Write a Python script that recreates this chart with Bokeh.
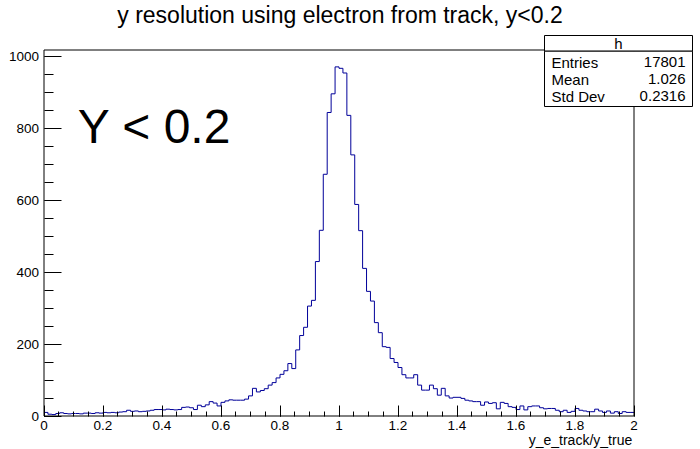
import numpy as np
from bokeh.plotting import figure
from bokeh.models import FixedTicker, Label, BoxAnnotation, Range1d
from bokeh.embed import file_html
from bokeh.resources import INLINE

# ---- data ----
counts = [
    10, 5, 4, 7, 9, 7, 6, 7, 7, 6, 8, 8, 7, 9, 8, 10, 9, 10, 9, 11,
    12, 16, 13, 14, 12, 13, 14, 16, 18, 18, 17, 19, 18,
    17, 18, 24, 25, 23, 18, 30, 26, 31, 40, 36, 28, 38, 42, 45, 44, 44, 44, 47, 56,
    77, 67, 71, 76, 86, 93, 106, 116, 126, 146, 132, 184, 224, 247, 306, 322, 430,
    517, 673, 845, 897, 972, 968, 955, 837, 727, 589, 516, 411, 347, 320, 260, 232,
    193, 191, 160, 149, 135,
    115, 106, 106, 115, 86, 72, 72, 86, 76, 58, 77, 56, 50, 52, 52, 49, 44, 42, 40,
    40, 30, 39, 35, 37, 20, 38, 35, 26, 24, 18, 28,
    17, 26, 28, 28, 23, 20, 21, 21, 16, 12, 16, 10, 13, 21, 16, 14, 12, 12, 19, 14,
    10, 14, 8, 12, 7, 12, 10, 10,
]
x_ticks = [0.0, 0.2, 0.4, 0.6, 0.8, 1.0, 1.2, 1.4, 1.6, 1.8, 2.0]
x_tick_labels = ["0", "0.2", "0.4", "0.6", "0.8", "1", "1.2", "1.4", "1.6", "1.8", "2"]
y_ticks = [0, 200, 400, 600, 800, 1000]
y_tick_labels = ["0", "200", "400", "600", "800", "1000"]
title_text = "y resolution using electron from track, y<0.2"
x_title = "y_e_track/y_true"
annot_text = "Y < 0.2"
stat_name = "h"
stat_labels = ["Entries", "Mean", "Std Dev"]
stat_values = ["17801", "1.026", "0.2316"]

# ---- geometry (canvas pixels) ----
W, H = 700, 449
XMIN, XMAX = 0.0, 2.0
YMIN, YMAX = 0.0, 1019.0
FL, FR, FT, FB = 43.5, 633.5, 49.5, 415.5   # plot box edges in canvas px
PXX = (FR - FL) / (XMAX - XMIN)
PYY = (FB - FT) / (YMAX - YMIN)
BASE_FIX = 0.355  # measured offset of the rendered baseline, in em


def dx(a):
    return XMIN + (a - FL) / PXX


def dy(a):
    return YMIN + (FB - a) / PYY


def by(baseline_px, size):
    return dy(baseline_px - BASE_FIX * size)


FONT = "Liberation Sans"

p = figure(width=W, height=H, title=None,
           x_range=Range1d(dx(0), dx(W)), y_range=Range1d(dy(H), dy(0)),
           output_backend="svg", toolbar_location=None,
           min_border_left=0, min_border_right=0, min_border_top=0, min_border_bottom=0)
p.grid.visible = False
p.background_fill_color = "white"
p.border_fill_color = "white"
p.outline_line_color = None

edges = np.linspace(XMIN, XMAX, len(counts) + 1)
xs = list(edges)
ys = list(counts) + [counts[-1]]
p.step(x=xs, y=ys, mode="after", line_color="#000099", line_width=1)

# plot box
p.quad(left=[XMIN], right=[XMAX], bottom=[YMIN], top=[YMAX],
       fill_color=None, line_color="black", line_width=1)

p.xaxis.ticker = FixedTicker(ticks=x_ticks, minor_ticks=list(np.arange(0, 2.0001, 0.05)))
p.xaxis.major_label_overrides = {t: l for t, l in zip(x_ticks, x_tick_labels)}
p.yaxis.ticker = FixedTicker(ticks=y_ticks, minor_ticks=list(np.arange(0, 1001, 50)))
p.yaxis.major_label_overrides = {t: l for t, l in zip(y_ticks, y_tick_labels)}

for ax, mj, mn in ((p.xaxis[0], 11, 5), (p.yaxis[0], 17, 9)):
    ax.fixed_location = 0
    ax.axis_line_color = None
    ax.major_tick_line_color = "black"
    ax.minor_tick_line_color = "black"
    ax.major_tick_in = mj
    ax.major_tick_out = 0
    ax.minor_tick_in = mn
    ax.minor_tick_out = 0
    ax.major_label_text_font = FONT
    ax.major_label_text_font_size = "13.5px"
    ax.major_label_text_color = "black"
    ax.major_label_standoff = 5


def add_text(x_px, base_px, text, size, align):
    p.add_layout(Label(x=dx(x_px), y=by(base_px, size), text=text, text_align=align,
                       text_baseline="alphabetic", text_font=FONT,
                       text_font_size=f"{size}px", text_color="black"))


# title
add_text(339.5, 23, title_text, 23, "center")
# x axis title
add_text(631.7, 444, x_title, 14, "right")
# big annotation
add_text(77.3, 143.3, annot_text, 48, "left")

# stats box
p.add_layout(BoxAnnotation(left=dx(544), right=dx(692), top=dy(35), bottom=dy(50.7),
                           fill_color="white", fill_alpha=1, line_color="black",
                           line_width=1, line_alpha=1))
p.add_layout(BoxAnnotation(left=dx(544), right=dx(692), top=dy(50.7), bottom=dy(106),
                           fill_color="white", fill_alpha=1, line_color="black",
                           line_width=1, line_alpha=1))
add_text(618, 48.3, stat_name, 15, "center")
for i, (lab, val) in enumerate(zip(stat_labels, stat_values)):
    base = 67 + 17 * i
    add_text(551, base, lab, 15, "left")
    add_text(685, base, val, 15, "right")

open("out.html", "w").write(file_html(p, INLINE))
